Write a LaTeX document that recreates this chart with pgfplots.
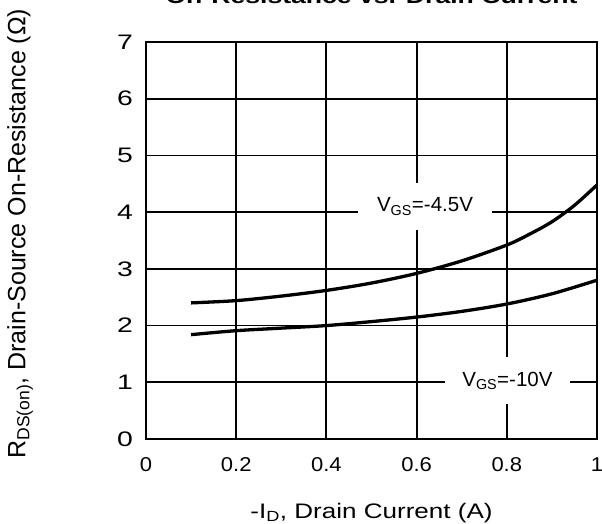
\documentclass[border=0pt]{standalone}
\usepackage{fontspec}
\setmainfont{Liberation Sans}
\newfontfamily\xtickfont{Liberation Sans}[FakeStretch=1.1]
\newfontfamily\ytickfont{Liberation Sans}[FakeStretch=1.35]
\newfontfamily\xlabfont{Liberation Sans}[FakeStretch=1.24]
\newfontfamily\titlefont{Liberation Sans}[FakeStretch=1.33]
\usepackage{pgfplots}
\pgfplotsset{compat=1.18}
\begin{document}
\begin{tikzpicture}
\begin{axis}[
  at={(0,0)}, anchor=south west,
  scale only axis, width=451bp, height=397bp,
  xmin=0, xmax=1, ymin=0, ymax=7,
  xtick={0,0.2,0.4,0.6,0.8,1}, ytick={0,1,2,3,4,5,6,7},
  major tick length=0pt,
  grid=major,
  major grid style={black, line width=1.8bp},
  axis line style={black, line width=2bp},
  /pgf/number format/assume math mode=true,
  xticklabel style={font=\xtickfont\fontsize{20bp}{23bp}\selectfont, anchor=north, inner sep=0pt, yshift=-18.5bp},
  yticklabel style={font=\ytickfont\fontsize{21bp}{24bp}\selectfont, anchor=east, inner sep=0pt, xshift=-13bp},
  title={\titlefont\bfseries On-Resistance vs. Drain Current},
  title style={font=\fontsize{20bp}{24bp}\selectfont, at={(axis description cs:0.5,1)}, anchor=base, inner sep=0pt, yshift=33bp},
  xlabel={\xlabfont -I\textsubscript{D}, Drain Current (A)},
  xlabel style={font=\fontsize{21bp}{24bp}\selectfont, at={(axis description cs:0.5,0)}, anchor=north, inner sep=0pt, yshift=-64bp},
  ylabel={R\textsubscript{DS(on)}, Drain-Source On-Resistance (Ω)},
  ylabel style={font=\fontsize{25bp}{28bp}\selectfont, at={(axis description cs:-0.3082,0.5176)}, anchor=north, inner sep=0pt},
]
\addplot[black, line width=3.3bp, smooth] coordinates {
(0.1,2.40) (0.2,2.44) (0.3,2.52) (0.4,2.62) (0.5,2.75) (0.6,2.92) (0.7,3.14) (0.8,3.42) (0.85,3.61) (0.9,3.83) (0.95,4.12) (1.0,4.48)};
\addplot[black, line width=3.3bp, smooth] coordinates {
(0.1,1.84) (0.2,1.91) (0.3,1.955) (0.4,2.0) (0.5,2.07) (0.6,2.15) (0.7,2.25) (0.8,2.38) (0.9,2.56) (1.0,2.80)};
\node[fill=white, inner sep=0pt, minimum width=134bp, minimum height=47bp, font=\fontsize{20.5bp}{24bp}\selectfont] at (axis cs:0.6186,4.10) {V\textsubscript{GS}=-4.5V};
\node[fill=white, inner sep=0pt, minimum width=125bp, minimum height=47bp, font=\fontsize{20.5bp}{24bp}\selectfont] at (axis cs:0.8014,1.03) {V\textsubscript{GS}=-10V};
\end{axis}
\pgfresetboundingbox
\useasboundingbox (-146bp,-85bp) rectangle (456bp,439bp);
\end{tikzpicture}
\end{document}
